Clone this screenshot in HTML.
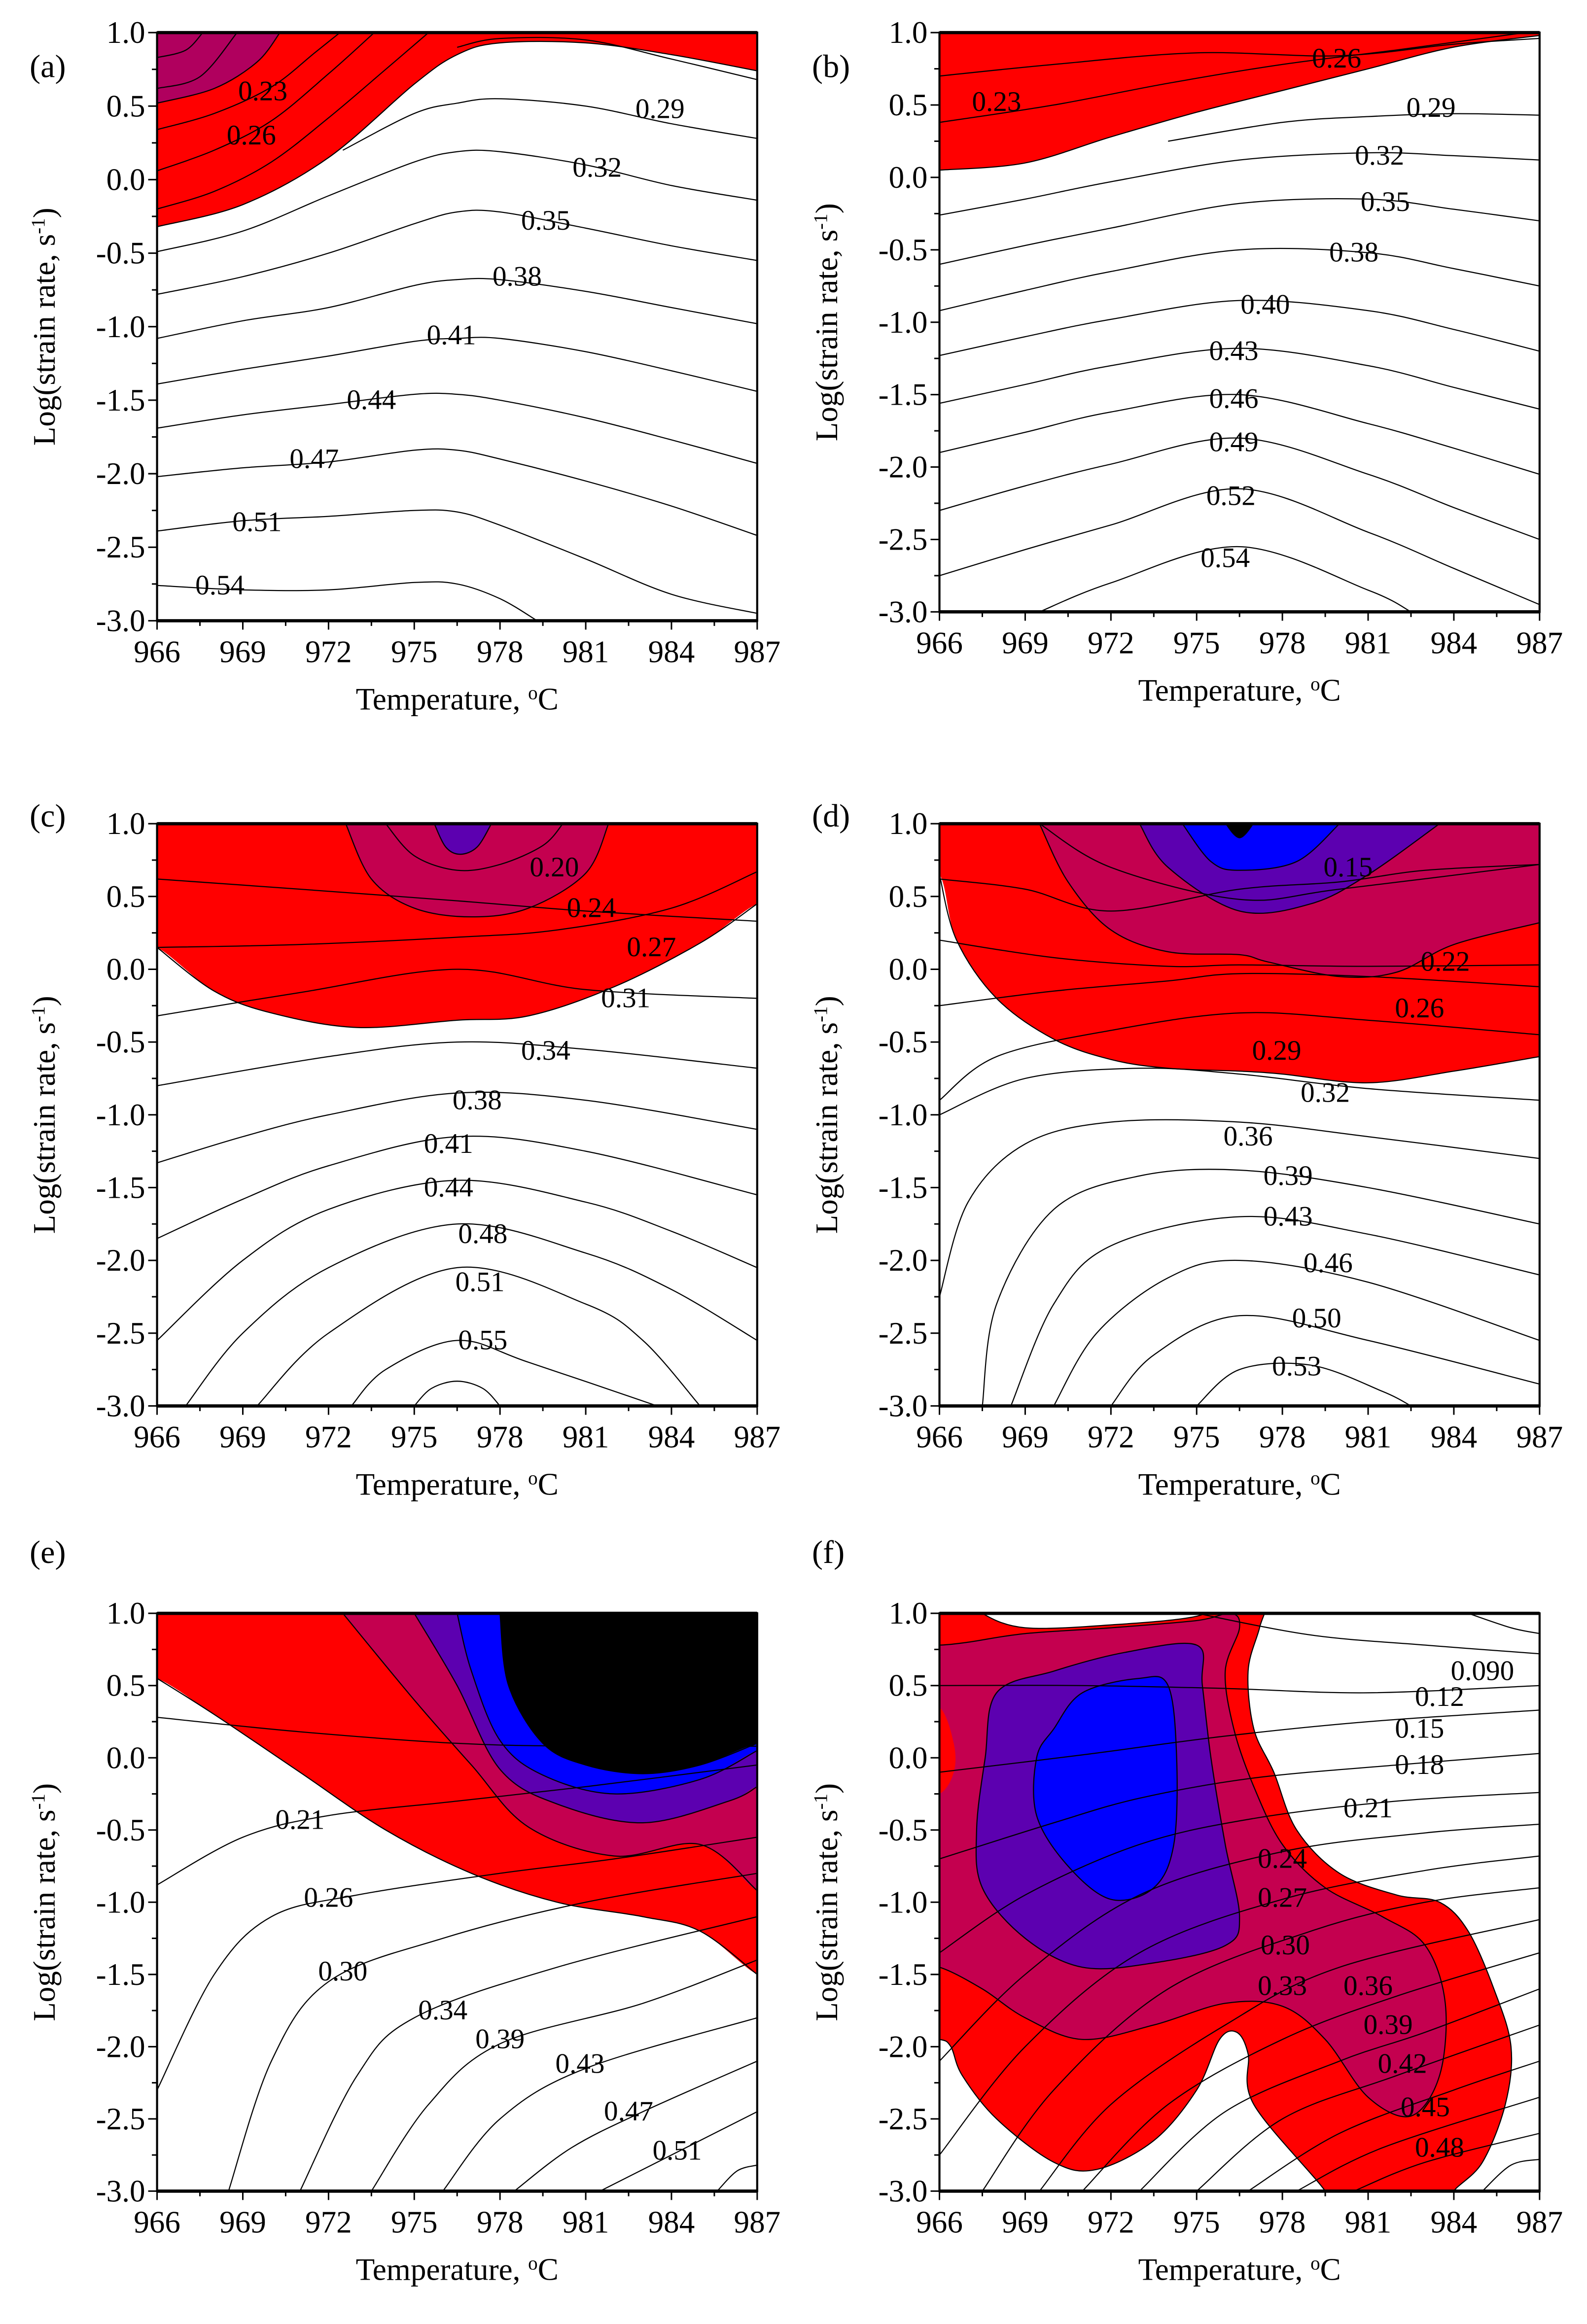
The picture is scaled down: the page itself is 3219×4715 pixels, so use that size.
<!DOCTYPE html>
<html><head><meta charset="utf-8">
<style>
html,body{margin:0;padding:0;background:#fff;}
svg{display:block;}
text{font-family:"Liberation Serif",serif;fill:#000;}
</style></head>
<body>
<svg id="fig" xmlns="http://www.w3.org/2000/svg" width="3219" height="4715" viewBox="0 0 1071 1568.7" preserveAspectRatio="none"></svg>
<script>
const xTicks=[966,969,972,975,978,981,984,987];
const yTicks=[1.0,0.5,0.0,-0.5,-1.0,-1.5,-2.0,-2.5,-3.0];
const yTickLabels=["1.0","0.5","0.0","-0.5","-1.0","-1.5","-2.0","-2.5","-3.0"];
const RED='#ff0000',CR='#c4004f',PU='#b0005e',IN='#5c00b0',BL='#0000ff',BK='#000000';

/* ---------- panel (a) ---------- */
const aFills=[
 [RED,[[965,1.1],[965,-0.32],[966,-0.32],[969,-0.17],[972,0.15],[975,0.65],[976.5,0.85],[978,0.93],[981,0.93],[984,0.85],[987,0.74],[988,0.74],[988,1.1]]],
 [PU,[[965,1.1],[965,0.52],[966,0.52],[968,0.62],[969.5,0.8],[970.3,1.0],[970.6,1.1]]]
];
const aLines=[
 [[966,-2.76],[969,-2.79],[972,-2.79],[975,-2.74],[976.5,-2.75],[978,-2.85],[979.3,-3.0]],
 [[966,-2.39],[969,-2.32],[972,-2.29],[975,-2.25],[976.5,-2.26],[978,-2.35],[981,-2.58],[984,-2.82],[987,-2.95]],
 [[966,-2.02],[969,-1.96],[972,-1.92],[975,-1.84],[976.5,-1.84],[978,-1.9],[981,-2.05],[984,-2.22],[987,-2.42]],
 [[966,-1.69],[969,-1.6],[972,-1.53],[975,-1.46],[976.5,-1.46],[978,-1.5],[981,-1.62],[984,-1.77],[987,-1.93]],
 [[966,-1.39],[969,-1.29],[972,-1.2],[975,-1.1],[976.5,-1.08],[978,-1.08],[981,-1.17],[984,-1.3],[987,-1.44]],
 [[966,-1.08],[969,-0.96],[972,-0.87],[975,-0.72],[976.5,-0.68],[978,-0.68],[981,-0.76],[984,-0.87],[987,-0.98]],
 [[966,-0.78],[969,-0.66],[972,-0.5],[975,-0.3],[976.5,-0.22],[978,-0.22],[981,-0.33],[984,-0.45],[987,-0.55]],
 [[966,-0.49],[969,-0.35],[972,-0.11],[975,0.12],[976.5,0.19],[978,0.19],[981,0.1],[984,-0.04],[987,-0.14]],
 [[972.5,0.2],[975,0.45],[976.5,0.52],[978,0.55],[981,0.5],[984,0.38],[987,0.28]],
 [[966,-0.32],[969,-0.17],[972,0.15],[975,0.65],[976.5,0.85],[978,0.93],[981,0.93],[984,0.85],[987,0.74]],
 [[976.5,0.9],[978,0.96],[981,0.95],[984,0.82],[987,0.68]],
 [[966,-0.2],[968,-0.08],[970,0.12],[972,0.42],[974,0.75],[975.5,1.0]],
 [[966,0.06],[968,0.2],[970,0.4],[972,0.72],[973.6,1.0]],
 [[966,0.34],[968,0.45],[970,0.63],[971.5,0.86],[972.4,1.0]],
 [[966,0.52],[968,0.62],[969.5,0.8],[970.3,1.0]],
 [[966,0.62],[967.5,0.7],[968.8,1.0]],
 [[966,0.83],[967,0.88],[967.6,1.0]]
];
const aLabels=[["0.23",969.7,0.6],["0.26",969.3,0.3],["0.29",983.6,0.48],["0.32",981.4,0.08],["0.35",979.6,-0.28],["0.38",978.6,-0.66],["0.41",976.3,-1.06],["0.44",973.5,-1.5],["0.47",971.5,-1.9],["0.51",969.5,-2.33],["0.54",968.2,-2.76]];

/* ---------- panel (b) ---------- */
const bFills=[
 [RED,[[965,1.1],[965,0.05],[966,0.05],[969,0.1],[972,0.28],[975,0.45],[978,0.6],[981,0.75],[984,0.9],[987,0.98],[988,0.98],[988,1.1]]]
];
const bLines=[
 [[966,0.05],[969,0.1],[972,0.28],[975,0.45],[978,0.6],[981,0.75],[984,0.9],[987,0.98]],
 [[966,0.38],[970,0.5],[974,0.65],[978,0.78],[982,0.88],[985,0.96],[986.5,1.0]],
 [[966,0.7],[970,0.78],[975,0.86],[980,0.84],[984,0.92],[987,0.96]],
 [[974,0.25],[978,0.38],[981,0.42],[984,0.44],[987,0.43]],
 [[966,-0.26],[969,-0.15],[972,-0.03],[976.5,0.12],[981,0.17],[984,0.15],[987,0.12]],
 [[966,-0.6],[969,-0.47],[972,-0.35],[976.5,-0.18],[981,-0.15],[984,-0.22],[987,-0.3]],
 [[966,-0.92],[969,-0.78],[972,-0.65],[976.5,-0.5],[981,-0.52],[984,-0.63],[987,-0.75]],
 [[966,-1.23],[969,-1.1],[972,-0.98],[976.5,-0.85],[981,-0.92],[984,-1.05],[987,-1.2]],
 [[966,-1.56],[969,-1.43],[972,-1.3],[976.5,-1.18],[981,-1.3],[984,-1.45],[987,-1.6]],
 [[966,-1.9],[969,-1.76],[972,-1.62],[976.5,-1.5],[981,-1.7],[984,-1.87],[987,-2.05]],
 [[966,-2.3],[969,-2.13],[972,-1.98],[976.5,-1.8],[981,-2.05],[984,-2.28],[987,-2.5]],
 [[966,-2.75],[969,-2.57],[972,-2.4],[976.5,-2.15],[981,-2.45],[984,-2.7],[987,-2.95]],
 [[969.5,-3.0],[972,-2.8],[976.5,-2.55],[981,-2.85],[982.5,-3.0]]
];
const bLabels=[["0.23",968,0.52],["0.26",979.9,0.82],["0.29",983.2,0.48],["0.32",981.4,0.15],["0.35",981.6,-0.17],["0.38",980.5,-0.52],["0.40",977.4,-0.88],["0.43",976.3,-1.2],["0.46",976.3,-1.53],["0.49",976.3,-1.83],["0.52",976.2,-2.2],["0.54",976,-2.63]];

/* ---------- panel (c) ---------- */
const cFills=[
 [RED,[[965,1.1],[965,0.15],[966,0.15],[968,-0.15],[970,-0.3],[973,-0.4],[976.5,-0.35],[979,-0.32],[982,-0.12],[985,0.18],[987,0.45],[988,0.45],[988,1.1]]],
 [CR,[[972.3,1.1],[972.6,1.0],[973.5,0.62],[975,0.42],[977,0.36],[979,0.42],[981,0.66],[981.8,1.0],[982,1.1]]],
 [IN,[[975.5,1.1],[975.7,1.0],[976.1,0.84],[976.6,0.79],[977.2,0.84],[977.7,1.0],[977.8,1.1]]]
];
const cLines=[
 [[966,0.15],[968,-0.15],[970,-0.3],[973,-0.4],[976.5,-0.35],[979,-0.32],[982,-0.12],[985,0.18],[987,0.45]],
 [[972.6,1.0],[973.5,0.62],[975,0.42],[977,0.36],[979,0.42],[981,0.66],[981.8,1.0]],
 [[974,1.0],[975,0.78],[976.5,0.68],[978,0.72],[979.5,0.85],[980.2,1.0]],
 [[975.7,1.0],[976.1,0.84],[976.6,0.79],[977.2,0.84],[977.7,1.0]],
 [[966,0.62],[971,0.55],[976.5,0.47],[981,0.4],[987,0.33]],
 [[966,0.15],[971,0.17],[976.5,0.22],[980,0.27],[984,0.42],[987,0.67]],
 [[966,-0.32],[971,-0.16],[976.5,0.0],[981,-0.14],[987,-0.2]],
 [[966,-0.8],[972,-0.6],[976.5,-0.5],[981,-0.55],[987,-0.68]],
 [[966,-1.33],[969,-1.15],[972,-1.0],[976.5,-0.85],[981,-0.9],[987,-1.1]],
 [[966,-1.85],[969,-1.58],[972,-1.35],[976.5,-1.15],[981,-1.25],[987,-1.55]],
 [[966,-2.55],[969,-2.0],[972,-1.65],[976.5,-1.45],[981,-1.6],[984,-1.8],[987,-2.05]],
 [[967,-3.0],[969,-2.5],[972,-2.05],[976.5,-1.75],[981,-1.95],[984,-2.2],[987,-2.55]],
 [[969.5,-3.0],[972,-2.5],[976.5,-2.05],[981,-2.3],[983,-2.55],[985,-3.0]],
 [[972.8,-3.0],[974,-2.75],[976.5,-2.55],[979,-2.7],[983.5,-3.0]],
 [[975,-3.0],[975.6,-2.88],[976.5,-2.83],[977.4,-2.88],[978,-3.0]]
];
const cLabels=[["0.20",979.9,0.7],["0.24",981.2,0.42],["0.27",983.3,0.15],["0.31",982.4,-0.2],["0.34",979.6,-0.56],["0.38",977.2,-0.9],["0.41",976.2,-1.2],["0.44",976.2,-1.5],["0.48",977.4,-1.82],["0.51",977.3,-2.15],["0.55",977.4,-2.55]];

/* ---------- panel (d) ---------- */
const dFills=[
 [RED,[[965,1.1],[965,0.65],[966,0.65],[966.6,0.2],[968,-0.2],[970,-0.48],[972,-0.62],[974,-0.68],[976.5,-0.7],[978,-0.72],[981,-0.78],[984,-0.7],[987,-0.6],[988,-0.6],[988,1.1]]],
 [CR,[[969.3,1.1],[969.5,1.0],[970.5,0.6],[972,0.27],[974,0.12],[976.5,0.1],[977.5,0.05],[980,-0.05],[982,-0.02],[984,0.17],[987,0.32],[988,0.32],[988,1.1]]],
 [IN,[[972.8,1.1],[973,1.0],[974,0.7],[976.5,0.4],[979,0.45],[981,0.65],[983.5,1.0],[983.7,1.1]]],
 [BL,[[974.3,1.1],[974.5,1.0],[975.5,0.74],[976.5,0.68],[978.5,0.74],[980,1.0],[980.2,1.1]]],
 [BK,[[975.8,1.1],[976,1.0],[976.5,0.9],[977,1.0],[977.2,1.1]]]
];
const dLines=[
 [[966,0.65],[966.6,0.2],[968,-0.2],[970,-0.48],[972,-0.62],[974,-0.68],[976.5,-0.7],[978,-0.72],[981,-0.78],[984,-0.7],[987,-0.6]],
 [[969.5,1.0],[970.5,0.6],[972,0.27],[974,0.12],[976.5,0.1],[977.5,0.05],[980,-0.05],[982,-0.02],[984,0.17],[987,0.32]],
 [[973,1.0],[974,0.7],[976.5,0.4],[979,0.45],[981,0.65],[983.5,1.0]],
 [[974.5,1.0],[975.5,0.74],[976.5,0.68],[978.5,0.74],[980,1.0]],
 [[966,0.62],[969,0.55],[972,0.4],[976.5,0.55],[980,0.6],[983,0.68],[987,0.72]],
 [[969.5,1.0],[972,0.7],[976.5,0.48],[980,0.55],[987,0.72]],
 [[966,0.2],[970,0.08],[974,0.02],[976.5,0.03],[981,0.02],[987,0.03]],
 [[966,-0.25],[970,-0.15],[974,-0.08],[976.5,-0.03],[981,-0.05],[987,-0.12]],
 [[966,-0.9],[968,-0.6],[972,-0.42],[976.5,-0.3],[981,-0.35],[987,-0.45]],
 [[966,-1.0],[969,-0.75],[973,-0.68],[976.5,-0.72],[981,-0.82],[987,-0.9]],
 [[966,-2.25],[967,-1.6],[969,-1.2],[972,-1.05],[976.5,-1.05],[981,-1.15],[987,-1.3]],
 [[967.5,-3.0],[968,-2.3],[970,-1.65],[973,-1.42],[976.5,-1.38],[981,-1.5],[987,-1.75]],
 [[968.5,-3.0],[970,-2.3],[972,-1.9],[976.5,-1.7],[981,-1.82],[987,-2.1]],
 [[970,-3.0],[971.5,-2.5],[974,-2.12],[976.5,-2.0],[981,-2.15],[987,-2.55]],
 [[972,-3.0],[973.5,-2.65],[976.5,-2.38],[981,-2.55],[987,-2.85]],
 [[975,-3.0],[976.5,-2.75],[979,-2.72],[981.5,-2.9],[982.5,-3.0]]
];
const dLabels=[["0.15",980.3,0.7],["0.22",983.7,0.05],["0.26",982.8,-0.27],["0.29",977.8,-0.56],["0.32",979.5,-0.85],["0.36",976.8,-1.15],["0.39",978.2,-1.42],["0.43",978.2,-1.7],["0.46",979.6,-2.02],["0.50",979.2,-2.4],["0.53",978.5,-2.73]];

/* ---------- panel (e) ---------- */
const eFills=[
 [RED,[[965,1.1],[965,0.55],[966,0.55],[968,0.3],[971,-0.1],[974,-0.5],[977,-0.8],[980,-1.0],[983,-1.1],[985,-1.2],[987,-1.5],[988,-1.5],[988,1.1]]],
 [CR,[[972.3,1.1],[972.5,1.0],[975,0.4],[977,-0.05],[979,-0.48],[982,-0.68],[985,-0.6],[987,-0.92],[988,-0.92],[988,1.1]]],
 [IN,[[974.8,1.1],[975,1.0],[976.5,0.5],[978,-0.08],[980,-0.32],[983,-0.45],[986,-0.3],[987,-0.2],[988,-0.2],[988,1.1]]],
 [BL,[[976.3,1.1],[976.5,1.0],[977,0.6],[978,0.12],[979.5,-0.12],[982,-0.25],[985,-0.15],[987,0.05],[988,0.05],[988,1.1]]],
 [BK,[[977.8,1.1],[978,1.0],[978.3,0.5],[979.5,0.1],[981,-0.05],[983,-0.11],[985,-0.05],[987,0.1],[988,0.1],[988,1.1]]]
];
const eLines=[
 [[966,0.55],[968,0.3],[971,-0.1],[974,-0.5],[977,-0.8],[980,-1.0],[983,-1.1],[985,-1.2],[987,-1.5]],
 [[972.5,1.0],[975,0.4],[977,-0.05],[979,-0.48],[982,-0.68],[985,-0.6],[987,-0.92]],
 [[975,1.0],[976.5,0.5],[978,-0.08],[980,-0.32],[983,-0.45],[986,-0.3],[987,-0.2]],
 [[976.5,1.0],[977,0.6],[978,0.12],[979.5,-0.12],[982,-0.25],[985,-0.15],[987,0.05]],
 [[978,1.0],[978.3,0.5],[979.5,0.1],[981,-0.05],[983,-0.11],[985,-0.05],[987,0.1]],
 [[966,0.28],[971,0.18],[976.5,0.1],[981,0.08],[987,0.08]],
 [[966,-0.88],[969,-0.55],[972,-0.4],[976.5,-0.3],[981,-0.2],[987,-0.05]],
 [[966,-2.3],[968,-1.5],[970,-1.1],[973,-0.95],[978,-0.8],[982,-0.7],[987,-0.55]],
 [[968.5,-3.0],[970,-2.1],[972,-1.55],[976,-1.25],[981,-1.0],[987,-0.8]],
 [[971,-3.0],[973,-2.2],[975,-1.8],[980,-1.45],[987,-1.1]],
 [[973.5,-3.0],[975.5,-2.4],[978,-1.98],[983,-1.7],[987,-1.4]],
 [[976,-3.0],[978,-2.5],[981,-2.15],[987,-1.8]],
 [[978.5,-3.0],[980.5,-2.7],[983,-2.45],[987,-2.1]],
 [[981.5,-3.0],[984,-2.75],[987,-2.45]],
 [[985.6,-3.0],[986.3,-2.86],[987,-2.82]]
];
const eLabels=[["0.21",971,-0.43],["0.26",972,-0.97],["0.30",972.5,-1.48],["0.34",976,-1.75],["0.39",978,-1.95],["0.43",980.8,-2.12],["0.47",982.5,-2.45],["0.51",984.2,-2.72]];

/* ---------- panel (f) ---------- */
const fFills=[
 [RED,[[965,1.1],[967.3,1.1],[967.5,1.0],[969,0.9],[972,0.92],[975,0.98],[976,1.1],[977.4,1.1],[977.2,0.9],[976.8,0.6],[977,0.2],[977.7,-0.1],[978.5,-0.5],[980,-0.8],[982,-0.95],[983.5,-1.0],[984.5,-1.2],[985.4,-1.6],[986,-2.0],[985.8,-2.4],[985,-2.8],[984,-3.0],[984,-3.1],[979.5,-3.1],[979.5,-3.0],[977,-2.4],[976.8,-2.05],[976.4,-1.9],[975.8,-1.95],[975,-2.3],[973.5,-2.65],[971.5,-2.85],[970,-2.8],[968,-2.5],[966.8,-2.2],[966.4,-2.0],[966,-1.95],[965,-1.95]]],
 [CR,[[965,0.78],[966,0.78],[967,0.8],[969,0.86],[972,0.9],[975,0.95],[976.2,1.0],[976.5,0.9],[976,0.6],[976.3,0.2],[977,-0.2],[978,-0.6],[979.5,-0.9],[981.5,-1.1],[983,-1.3],[983.7,-1.7],[983.5,-2.2],[982.5,-2.48],[981,-2.35],[979.5,-1.95],[978,-1.72],[976,-1.7],[973.5,-1.85],[971,-1.95],[969,-1.8],[967.5,-1.6],[966,-1.45],[965,-1.45]]],
 [RED,[[965,0.35],[966,0.35],[966.5,0.1],[966.5,-0.1],[966,-0.25],[965,-0.25]]],
 [IN,[[968,0.45],[970,0.6],[972.5,0.73],[975,0.78],[975.2,0.5],[975.5,0.0],[976,-0.6],[976.5,-1.1],[976,-1.3],[973.5,-1.42],[971,-1.45],[969,-1.25],[967.5,-0.9],[967.3,-0.5],[967.6,0.0]]],
 [BL,[[970,0.2],[971,0.45],[973,0.55],[974,0.5],[974.3,0.0],[974.2,-0.6],[973.5,-0.9],[972,-0.98],[970.5,-0.75],[969.4,-0.4],[969.4,0.0]]]
];
const fLines=[
 [[975,1.0],[979,0.85],[983,0.78],[987,0.72]],
 [[984.5,1.0],[986,0.9],[987,0.86]],
 [[966,0.5],[971,0.5],[976,0.48],[981,0.45],[987,0.5]],
 [[966,-0.1],[971,0.02],[976,0.15],[981,0.25],[987,0.33]],
 [[966,-0.7],[970,-0.45],[973,-0.28],[977,-0.14],[982,-0.05],[987,0.03]],
 [[966,-1.35],[969,-0.95],[973,-0.6],[977,-0.42],[982,-0.3],[987,-0.24]],
 [[966,-2.1],[969,-1.5],[973,-0.95],[978,-0.65],[983,-0.52],[987,-0.46]],
 [[966,-2.75],[969,-2.0],[973,-1.35],[978,-0.98],[983,-0.78],[987,-0.68]],
 [[967.5,-3.0],[970,-2.3],[974,-1.6],[979,-1.2],[983,-1.0],[987,-0.9]],
 [[969.5,-3.0],[972,-2.4],[976,-1.85],[980,-1.45],[987,-1.12]],
 [[971,-3.0],[974,-2.4],[978,-1.95],[982,-1.65],[987,-1.35]],
 [[973,-3.0],[976,-2.45],[980,-2.1],[983,-1.9],[987,-1.6]],
 [[975,-3.0],[978,-2.5],[982,-2.2],[987,-1.85]],
 [[976.8,-3.0],[980,-2.6],[984,-2.3],[987,-2.1]],
 [[978.5,-3.0],[981.5,-2.7],[987,-2.35]],
 [[980.5,-3.0],[983,-2.8],[987,-2.6]],
 [[985,-3.0],[986,-2.82],[987,-2.78]]
];
const fLabels=[["0.090",985,0.6],["0.12",983.5,0.42],["0.15",982.8,0.2],["0.18",982.8,-0.05],["0.21",981,-0.35],["0.24",978,-0.7],["0.27",978,-0.97],["0.30",978.1,-1.3],["0.33",978,-1.58],["0.36",981,-1.58],["0.39",981.7,-1.85],["0.42",982.2,-2.12],["0.45",983,-2.42],["0.48",983.5,-2.7]];

const panels=[
 {id:'a',fills:aFills,lines:aLines,labels:aLabels,x0:106,x1:511,y0:22,y1:419,lx:20,ly:52},
 {id:'b',fills:bFills,lines:bLines,labels:bLabels,x0:634,x1:1039,y0:22,y1:413,lx:548,ly:52},
 {id:'c',fills:cFills,lines:cLines,labels:cLabels,x0:106,x1:511,y0:556,y1:949,lx:20,ly:558},
 {id:'d',fills:dFills,lines:dLines,labels:dLabels,x0:634,x1:1039,y0:556,y1:949,lx:548,ly:558},
 {id:'e',fills:eFills,lines:eLines,labels:eLabels,x0:106,x1:511,y0:1089,y1:1479,lx:20,ly:1055},
 {id:'f',fills:fFills,lines:fLines,labels:fLabels,x0:634,x1:1039,y0:1089,y1:1479,lx:548,ly:1055}
];

const NS='http://www.w3.org/2000/svg';
const svg=document.getElementById('fig');
function mk(tag,attrs,parent){const e=document.createElementNS(NS,tag);for(const k in attrs)e.setAttribute(k,attrs[k]);(parent||svg).appendChild(e);return e;}
function smooth(P,closed){
 if(P.length<2)return '';
 const n=P.length;let d='M'+P[0][0].toFixed(2)+','+P[0][1].toFixed(2);
 const g=i=>closed?P[(i+n)%n]:P[Math.max(0,Math.min(n-1,i))];
 const segs=closed?n:n-1;
 for(let i=0;i<segs;i++){
  const p0=g(i-1),p1=g(i),p2=g(i+1),p3=g(i+2);
  const c1=[p1[0]+(p2[0]-p0[0])/6,p1[1]+(p2[1]-p0[1])/6];
  const c2=[p2[0]-(p3[0]-p1[0])/6,p2[1]-(p3[1]-p1[1])/6];
  d+='C'+c1[0].toFixed(2)+','+c1[1].toFixed(2)+' '+c2[0].toFixed(2)+','+c2[1].toFixed(2)+' '+p2[0].toFixed(2)+','+p2[1].toFixed(2);
 }
 return d+(closed?'Z':'');
}

panels.forEach(p=>{
 const sx=T=>p.x0+(T-966)/21*(p.x1-p.x0);
 const sy=v=>p.y0+(1-v)/4*(p.y1-p.y0);
 const g=mk('g',{});
 
 
 const cp=mk('clipPath',{id:'clip'+p.id},g);
 mk('rect',{x:p.x0,y:p.y0,width:p.x1-p.x0,height:p.y1-p.y0},cp);
 const plot=mk('g',{'clip-path':'url(#clip'+p.id+')'},g);
 
 
 p.fills.forEach((f,i)=>{
  const pts=f[1].map(q=>[sx(q[0]),sy(q[1])]);
  const el=mk('path',{d:smooth(pts,true),fill:f[0],stroke:'none'},plot);
  
  
 });
 p.lines.forEach((L,i)=>{
  const pts=L.map(q=>[sx(q[0]),sy(q[1])]);
  const el=mk('path',{d:smooth(pts,false),fill:'none',stroke:'#000','stroke-width':0.75},plot);
  
  
 });
 if(p.id==='f'){
  [3,4,1,0].forEach(k=>{
   const pts=p.fills[k][1].map(q=>[sx(q[0]),sy(q[1])]);
   const el=mk('path',{d:smooth(pts,true),fill:'none',stroke:'#000','stroke-width':0.75},plot);
   
   
  });
 }
 p.labels.forEach(l=>{
  const t=mk('text',{x:sx(l[1]),y:sy(l[2])+6,'font-size':19,'text-anchor':'middle'},plot);
  t.textContent=l[0];
  
  
 });
 const fr=mk('rect',{x:p.x0,y:p.y0,width:p.x1-p.x0,height:p.y1-p.y0,fill:'none',stroke:'#000','stroke-width':1.4},g);
 
 
 mk('line',{x1:p.x0,y1:p.y0,x2:p.x1,y2:p.y0,stroke:'#000','stroke-width':2.2},g);
 mk('line',{x1:p.x0,y1:p.y1,x2:p.x1,y2:p.y1,stroke:'#000','stroke-width':2.2},g);
 for(let T=966;T<=987.01;T+=1.5){
  const major=Math.abs((T-966)%3)<0.01;
  mk('line',{x1:sx(T),y1:p.y1,x2:sx(T),y2:p.y1+(major?6:3.5),stroke:'#000','stroke-width':1},g);
 }
 xTicks.forEach(T=>{
  const t=mk('text',{x:sx(T),y:p.y1+28,'font-size':21,'text-anchor':'middle'},g);
  t.textContent=String(T);
  
  
 });
 for(let v=1;v>=-3.001;v-=0.25){
  const major=Math.abs((v*2)-Math.round(v*2))<0.01;
  mk('line',{x1:p.x0,y1:sy(v),x2:p.x0-(major?6:3.5),y2:sy(v),stroke:'#000','stroke-width':1},g);
 }
 yTicks.forEach((v,i)=>{
  const t=mk('text',{x:p.x0-8,y:sy(v)+7,'font-size':21,'text-anchor':'end'},g);
  t.textContent=yTickLabels[i];
  
  
 });
 const xt=mk('text',{x:(p.x0+p.x1)/2,y:p.y1+60,'font-size':21,'text-anchor':'middle'},g);
 xt.innerHTML='Temperature, <tspan baseline-shift="super" font-size="13">o</tspan>C';
 
 
 const cy=(p.y0+p.y1)/2, cx=p.x0-69;
 const yt=mk('text',{x:cx,y:cy,'font-size':21,'text-anchor':'middle',transform:'rotate(-90 '+cx+' '+cy+')'},g);
 yt.innerHTML='Log(strain rate, s<tspan baseline-shift="super" font-size="13">-1</tspan>)';
 
 
 const pl=mk('text',{x:p.lx,y:p.ly,'font-size':22},g);
 pl.textContent='('+p.id+')';
 
 
});
</script>
</body></html>
